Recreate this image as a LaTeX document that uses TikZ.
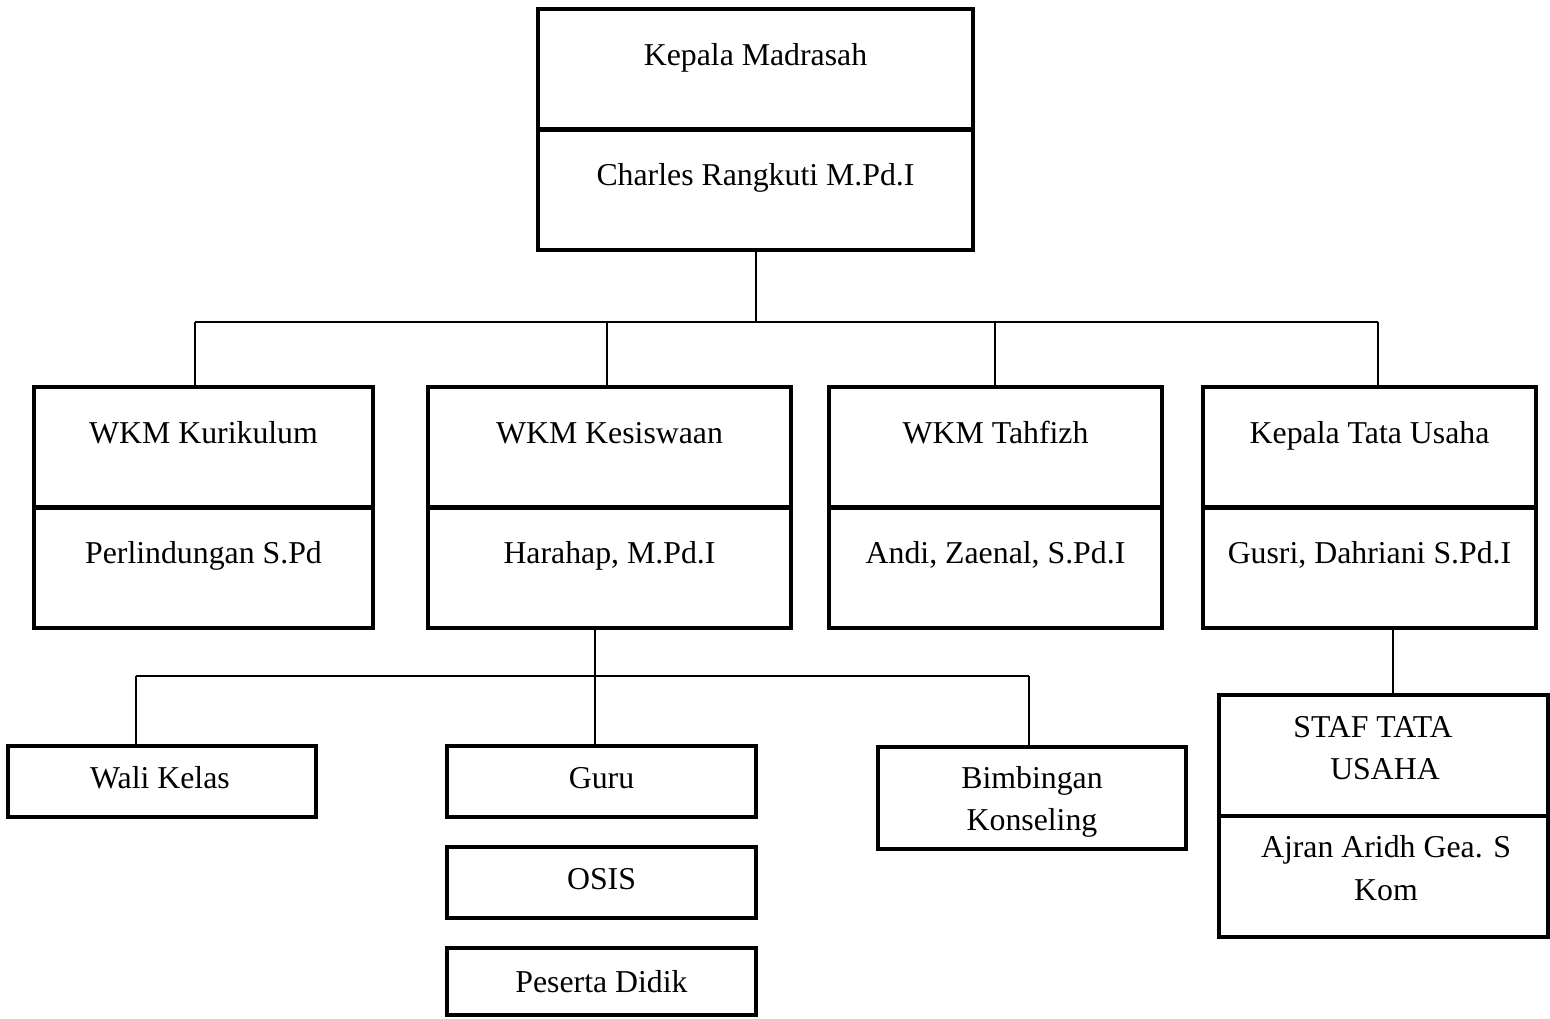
\documentclass[tikz,border=0pt]{standalone}
\usepackage{fontspec}
\setmainfont{Liberation Serif}
\begin{document}
\begin{tikzpicture}[x=0.5pt,y=-0.5pt,
  orgbox/.style 2 args={draw, line width=2.3pt, minimum width=#1*0.5pt, minimum height=#2*0.5pt, inner sep=0pt},
  divline/.style={line width=2.3pt},
  conn/.style={line width=1pt},
  lbl/.style={anchor=base, inner sep=0pt, font=\fontsize{15.9}{21}\selectfont}]
\useasboundingbox (0,0) rectangle (1550,1018);
% boxes
\node[orgbox={435}{241}] (top) at (755.5,129.5) {};
\node[orgbox={339}{241}] (kur) at (203.5,507.5) {};
\node[orgbox={363}{241}] (kes) at (609.5,507.5) {};
\node[orgbox={333}{241}] (tah) at (995.5,507.5) {};
\node[orgbox={333}{241}] (ktu) at (1369.5,507.5) {};
\node[orgbox={308}{71}] (wali) at (162,781.5) {};
\node[orgbox={309}{71}] (guru) at (601.5,781.5) {};
\node[orgbox={309}{71}] (osis) at (601.5,882.5) {};
\node[orgbox={309}{67}] (pd) at (601.5,981.5) {};
\node[orgbox={308}{102}] (bk) at (1032,798) {};
\node[orgbox={329}{242}] (staf) at (1383.5,816) {};
% dividers
\draw[divline] (top.west) -- (top.east);
\draw[divline] (kur.west) -- (kur.east);
\draw[divline] (kes.west) -- (kes.east);
\draw[divline] (tah.west) -- (tah.east);
\draw[divline] (ktu.west) -- (ktu.east);
\draw[divline] (staf.west) -- (staf.east);
% labels
\node[lbl] (t1) at (755.5,65) {Kepala Madrasah};
\node[lbl] (t2) at (755.5,185) {Charles Rangkuti M.Pd.I};
\node[lbl] (t3) at (203.5,443) {WKM Kurikulum};
\node[lbl] (t4) at (203.5,563) {Perlindungan S.Pd};
\node[lbl] (t5) at (609.5,443) {WKM Kesiswaan};
\node[lbl] (t6) at (609.5,563) {Harahap, M.Pd.I};
\node[lbl] (t7) at (995.5,443) {WKM Tahfizh};
\node[lbl] (t8) at (995.5,563) {Andi, Zaenal, S.Pd.I};
\node[lbl] (t9) at (1369.5,443) {Kepala Tata Usaha};
\node[lbl] (t10) at (1369.5,563) {Gusri, Dahriani S.Pd.I};
\node[lbl] (t11) at (160,788) {Wali Kelas};
\node[lbl] (t12) at (601.5,788) {Guru};
\node[lbl] (t13) at (601.5,889) {OSIS};
\node[lbl] (t14) at (601.5,992) {Peserta Didik};
\node[lbl] (t15) at (1032,788) {Bimbingan};
\node[lbl] (t16) at (1032,830) {Konseling};
\node[lbl] (t17) at (1373,737) {STAF TATA};
\node[lbl] (t18) at (1385,779) {USAHA};
\node[lbl] (t19) at (1386,857) {Ajran Aridh Gea. S};
\node[lbl] (t20) at (1386,900) {Kom};
% connectors
\coordinate (busL) at (195,322);
\coordinate (busR) at (1378,322);
\coordinate (tkes) at (607,322);
\coordinate (ttah) at (995,322);
\draw[conn] (top.south) -- (top.south |- busL);
\draw[conn] (busL) -- (busR);
\draw[conn] (busL) -- (busL |- kur.north);
\draw[conn] (tkes) -- (tkes |- kes.north);
\draw[conn] (ttah) -- (ttah |- tah.north);
\draw[conn] (busR) -- (busR |- ktu.north);
\coordinate (ks) at (595,676);
\coordinate (bus2L) at (136,676);
\coordinate (bus2R) at (1029,676);
\draw[conn] (ks |- kes.south) -- (ks);
\draw[conn] (bus2L) -- (bus2R);
\draw[conn] (bus2L) -- (bus2L |- wali.north);
\draw[conn] (ks) -- (ks |- guru.north);
\draw[conn] (bus2R) -- (bus2R |- bk.north);
\coordinate (sx) at (1393,660);
\draw[conn] (sx |- ktu.south) -- (sx |- staf.north);
\end{tikzpicture}
\end{document}
